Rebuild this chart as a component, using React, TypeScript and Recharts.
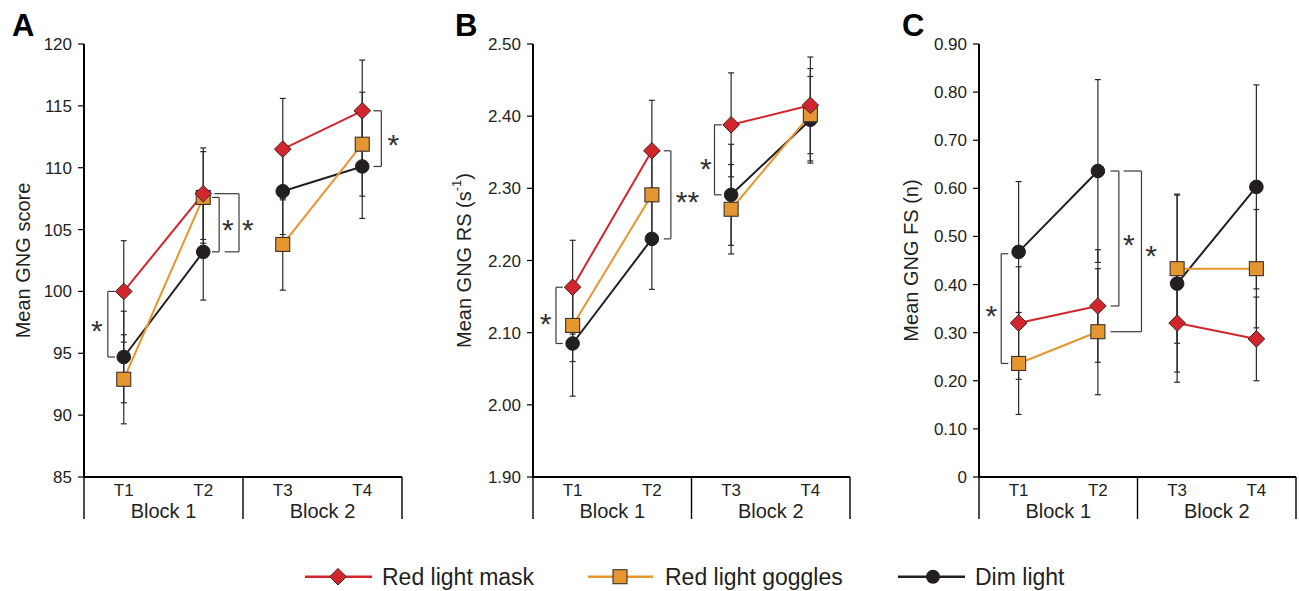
import React from 'react';
import { LineChart, Line, XAxis, YAxis, ErrorBar, ReferenceLine, ReferenceDot } from 'recharts';

// ---------- categories / labels ----------
const timepoints = ['T1', 'T2', 'T3', 'T4'];
const blocks = ['Block 1', 'Block 2'];
const seriesNames = ['Red light mask', 'Red light goggles', 'Dim light'];

// ---------- Panel A : Mean GNG score ----------
const scoreMask = [100.0, 107.9, 111.5, 114.6];
const scoreMaskErr = [4.1, 3.7, 4.1, 4.1];
const scoreGoggles = [92.9, 107.6, 103.8, 111.9];
const scoreGogglesErr = [3.6, 3.7, 3.7, 4.2];
const scoreDim = [94.7, 103.2, 108.1, 110.1];
const scoreDimErr = [3.7, 3.9, 3.5, 4.2];
const scoreTicks = [85, 90, 95, 100, 105, 110, 115, 120];

// ---------- Panel B : Mean GNG RS ----------
const rsMask = [2.163, 2.352, 2.388, 2.415];
const rsMaskErr = [0.065, 0.07, 0.072, 0.067];
const rsGoggles = [2.11, 2.291, 2.271, 2.402];
const rsGogglesErr = [0.05, 0.06, 0.062, 0.064];
const rsDim = [2.085, 2.23, 2.291, 2.395];
const rsDimErr = [0.073, 0.07, 0.07, 0.06];
const rsTicks = [1.9, 2.0, 2.1, 2.2, 2.3, 2.4, 2.5];

// ---------- Panel C : Mean GNG FS ----------
const fsMask = [0.32, 0.3555, 0.32, 0.287];
const fsMaskErr = [0.117, 0.117, 0.123, 0.087];
const fsGoggles = [0.236, 0.302, 0.433, 0.433];
const fsGogglesErr = [0.106, 0.131, 0.155, 0.123];
const fsDim = [0.468, 0.636, 0.402, 0.603];
const fsDimErr = [0.146, 0.19, 0.184, 0.212];
const fsTicks = [0, 0.1, 0.2, 0.3, 0.4, 0.5, 0.6, 0.7, 0.8, 0.9];

// ---------- significance annotations (x in timepoint units) ----------
const scoreBrackets = [
  { at: 1, v: -0.2, top: -0.11, bot: -0.11, y1: 100.0, y2: 94.7 },
  { at: 2, v: 0.2, top: 0.11, bot: 0.11, y1: 107.6, y2: 103.2 },
  { at: 2, v: 0.45, top: 0.14, bot: 0.27, y1: 107.9, y2: 103.2 },
  { at: 4, v: 0.24, top: 0.14, bot: 0.14, y1: 114.6, y2: 110.1 },
];
const scoreStars = [
  { at: 1, dx: -0.34, y: 97.4, text: '*' },
  { at: 2, dx: 0.31, y: 105.5, text: '*' },
  { at: 2, dx: 0.56, y: 105.5, text: '*' },
  { at: 4, dx: 0.39, y: 112.4, text: '*' },
];
const rsBrackets = [
  { at: 1, v: -0.21, top: -0.125, bot: -0.125, y1: 2.163, y2: 2.085 },
  { at: 2, v: 0.24, top: 0.15, bot: 0.15, y1: 2.352, y2: 2.23 },
  { at: 3, v: -0.21, top: -0.12, bot: -0.12, y1: 2.388, y2: 2.291 },
];
const rsStars = [
  { at: 1, dx: -0.34, y: 2.122, text: '*' },
  { at: 2, dx: 0.45, y: 2.291, text: '**' },
  { at: 3, dx: -0.32, y: 2.337, text: '*' },
];
const fsBrackets = [
  { at: 1, v: -0.22, top: -0.13, bot: -0.13, y1: 0.464, y2: 0.236 },
  { at: 2, v: 0.265, top: 0.16, bot: 0.16, y1: 0.636, y2: 0.3555 },
  { at: 2, v: 0.55, top: 0.325, bot: 0.16, y1: 0.636, y2: 0.302 },
];
const fsStars = [
  { at: 1, dx: -0.345, y: 0.349, text: '*' },
  { at: 2, dx: 0.39, y: 0.496, text: '*' },
  { at: 2, dx: 0.67, y: 0.473, text: '*' },
];

// ---------- styling ----------
const RED = '#d3262c';
const ORANGE = '#e6962f';
const DARK = '#231f20';
const INK = '#231f20';
const FONT = '"Liberation Sans", Arial, Helvetica, sans-serif';

// rows per timepoint, with an empty row between the two blocks so the lines break there
function makeRows(m: number[], me: number[], g: number[], ge: number[], d: number[], de: number[]) {
  const rows: any[] = timepoints.map((t, i) => ({
    x: i + 1,
    t,
    mask: m[i],
    maskErr: me[i],
    goggles: g[i],
    gogglesErr: ge[i],
    dim: d[i],
    dimErr: de[i],
  }));
  return [rows[0], rows[1], { x: 2.5, mask: null, goggles: null, dim: null }, rows[2], rows[3]];
}

const diamondDot = (p: any) => {
  const { cx, cy, index } = p;
  if (cx == null || cy == null || isNaN(cy)) return <g key={`d${index}`} />;
  const r = 8.3;
  return (
    <polygon
      key={`d${index}`}
      points={`${cx},${cy - r} ${cx + r},${cy} ${cx},${cy + r} ${cx - r},${cy}`}
      fill={RED}
      stroke="#3a2424"
      strokeWidth={1}
    />
  );
};
const squareDot = (p: any) => {
  const { cx, cy, index } = p;
  if (cx == null || cy == null || isNaN(cy)) return <g key={`s${index}`} />;
  const h = 7;
  return <rect key={`s${index}`} x={cx - h} y={cy - h} width={2 * h} height={2 * h} fill={ORANGE} stroke="#3a3030" strokeWidth={1.1} />;
};
const circleDot = (p: any) => {
  const { cx, cy, index } = p;
  if (cx == null || cy == null || isNaN(cy)) return <g key={`c${index}`} />;
  return <circle key={`c${index}`} cx={cx} cy={cy} r={6.8} fill={DARK} stroke={DARK} strokeWidth={1} />;
};

const XTick = (props: any) => {
  const { x, y, payload } = props;
  const v = payload.value as number;
  if (Number.isInteger(v)) {
    return (
      <text x={x} y={y + 19} textAnchor="middle" fontSize={17} fill={INK}>
        {timepoints[v - 1]}
      </text>
    );
  }
  if (v === 1.5 || v === 3.5) {
    return (
      <text x={x} y={y + 41} textAnchor="middle" fontSize={20} fill={INK}>
        {blocks[v === 1.5 ? 0 : 1]}
      </text>
    );
  }
  return <line x1={x} y1={y} x2={x} y2={y + 42} stroke="#000" strokeWidth={1.4} />;
};

type Bracket = { at: number; v: number; top: number; bot: number; y1: number; y2: number };
type Star = { at: number; dx: number; y: number; text: string };

type PanelProps = {
  left: number;
  width: number;
  mLeft: number;
  mRight: number;
  titleDx: number;
  title: React.ReactNode;
  rows: any[];
  ticks: number[];
  fmt: (v: number) => string;
  brackets: Bracket[];
  stars: Star[];
};

function Panel(props: PanelProps) {
  const { left, width, mLeft, mRight, titleDx, title, rows, ticks, fmt, brackets, stars } = props;
  const yTitle = (lp: any) => {
    const vb = lp.viewBox || { x: mLeft, y: 44, width: 60, height: 433 };
    const cx = vb.x + titleDx;
    const cy = vb.y + vb.height / 2;
    return (
      <text
        x={cx}
        y={cy}
        transform={`rotate(-90 ${cx} ${cy})`}
        textAnchor="middle"
        dominantBaseline="central"
        fontSize={20}
        fill={INK}
      >
        {title}
      </text>
    );
  };
  const segStyle = { stroke: '#3a3a3a', strokeWidth: 1.2 };
  const eb = { width: 3, stroke: '#2a2a2a', strokeWidth: 1.2, direction: 'y' as const };
  return (
    <div style={{ position: 'absolute', left, top: 0 }}>
      <LineChart width={width} height={530} data={rows} margin={{ top: 44, right: mRight, bottom: 3, left: mLeft }}>
        <XAxis
          type="number"
          dataKey="x"
          domain={[0.5, 4.5]}
          ticks={[0.5, 1, 1.5, 2, 2.5, 3, 3.5, 4, 4.5]}
          interval={0}
          tickLine={false}
          tickSize={0}
          tickMargin={0}
          height={50}
          axisLine={{ stroke: '#000', strokeWidth: 2 }}
          tick={(p: any) => <XTick {...p} />}
        />
        <YAxis
          type="number"
          domain={[ticks[0], ticks[ticks.length - 1]]}
          ticks={ticks}
          interval={0}
          width={60}
          tickSize={6}
          tickMargin={6}
          axisLine={{ stroke: '#000', strokeWidth: 2 }}
          tickLine={{ stroke: '#000', strokeWidth: 1.2 }}
          tick={{ fontSize: 17, fill: INK }}
          tickFormatter={fmt}
          label={yTitle}
        />
        {brackets.map((b, i) => [
          <ReferenceLine key={`bt${i}`} segment={[{ x: b.at + b.top, y: b.y1 }, { x: b.at + b.v, y: b.y1 }]} {...segStyle} />,
          <ReferenceLine key={`bv${i}`} segment={[{ x: b.at + b.v, y: b.y1 }, { x: b.at + b.v, y: b.y2 }]} {...segStyle} />,
          <ReferenceLine key={`bb${i}`} segment={[{ x: b.at + b.bot, y: b.y2 }, { x: b.at + b.v, y: b.y2 }]} {...segStyle} />,
        ])}
        {/* error bars first, beneath all lines and markers */}
        <Line dataKey="dim" stroke="none" dot={false} activeDot={false} legendType="none" isAnimationActive={false}>
          <ErrorBar dataKey="dimErr" {...eb} />
        </Line>
        <Line dataKey="goggles" stroke="none" dot={false} activeDot={false} legendType="none" isAnimationActive={false}>
          <ErrorBar dataKey="gogglesErr" {...eb} />
        </Line>
        <Line dataKey="mask" stroke="none" dot={false} activeDot={false} legendType="none" isAnimationActive={false}>
          <ErrorBar dataKey="maskErr" {...eb} />
        </Line>
        <Line dataKey="dim" name={seriesNames[2]} stroke={DARK} strokeWidth={2} dot={circleDot} activeDot={false} isAnimationActive={false} />
        <Line dataKey="goggles" name={seriesNames[1]} stroke={ORANGE} strokeWidth={2} dot={squareDot} activeDot={false} isAnimationActive={false} />
        <Line dataKey="mask" name={seriesNames[0]} stroke={RED} strokeWidth={2} dot={diamondDot} activeDot={false} isAnimationActive={false} />
        {stars.map((s, i) => (
          <ReferenceDot
            key={`st${i}`}
            x={s.at + s.dx}
            y={s.y}
            r={0}
            shape={(p: any) => (
              <text x={p.cx} y={p.cy + 17} textAnchor="middle" fontSize={30} fill="#333">
                {s.text}
              </text>
            )}
          />
        ))}
      </LineChart>
    </div>
  );
}

const legendItems = [
  { name: seriesNames[0], color: RED, marker: 'diamond', x0: 305, x1: 372, mx: 338, tx: 382 },
  { name: seriesNames[1], color: ORANGE, marker: 'square', x0: 588, x1: 653, mx: 620, tx: 665 },
  { name: seriesNames[2], color: DARK, marker: 'circle', x0: 898, x1: 965, mx: 933, tx: 975 },
];

function Overlay() {
  const ly = 576.7;
  return (
    <svg width={1299} height={591} style={{ position: 'absolute', left: 0, top: 0, pointerEvents: 'none' }}>
      <text x={12} y={36} fontSize={31} fontWeight="bold" fill="#000">A</text>
      <text x={455} y={36} fontSize={31} fontWeight="bold" fill="#000">B</text>
      <text x={902} y={36} fontSize={31} fontWeight="bold" fill="#000">C</text>
      {legendItems.map((it) => (
        <g key={it.name}>
          <line x1={it.x0} y1={ly} x2={it.x1} y2={ly} stroke={it.color} strokeWidth={2.5} />
          {it.marker === 'diamond' && diamondDot({ cx: it.mx, cy: ly, index: 'l' })}
          {it.marker === 'square' && squareDot({ cx: it.mx, cy: ly, index: 'l' })}
          {it.marker === 'circle' && <circle cx={it.mx} cy={ly} r={7} fill={DARK} />}
          <text x={it.tx} y={ly + 7.8} fontSize={23} fill={INK}>
            {it.name}
          </text>
        </g>
      ))}
    </svg>
  );
}

export default function App() {
  const rowsA = makeRows(scoreMask, scoreMaskErr, scoreGoggles, scoreGogglesErr, scoreDim, scoreDimErr);
  const rowsB = makeRows(rsMask, rsMaskErr, rsGoggles, rsGogglesErr, rsDim, rsDimErr);
  const rowsC = makeRows(fsMask, fsMaskErr, fsGoggles, fsGogglesErr, fsDim, fsDimErr);
  return (
    <div style={{ position: 'absolute', left: 0, top: 0, width: 1299, height: 591, background: '#fff', fontFamily: FONT }}>
      <Panel
        left={0}
        width={430}
        mLeft={24}
        mRight={28}
        titleDx={-1.5}
        title="Mean GNG score"
        rows={rowsA}
        ticks={scoreTicks}
        fmt={(v) => String(v)}
        brackets={scoreBrackets}
        stars={scoreStars}
      />
      <Panel
        left={430}
        width={440}
        mLeft={43}
        mRight={20}
        titleDx={-9}
        title={
          <>
            Mean GNG RS (s
            <tspan fontSize={13} dy={-8}>-1</tspan>
            <tspan dy={8}>)</tspan>
          </>
        }
        rows={rowsB}
        ticks={rsTicks}
        fmt={(v) => v.toFixed(2)}
        brackets={rsBrackets}
        stars={rsStars}
      />
      <Panel
        left={870}
        width={429}
        mLeft={49}
        mRight={3}
        titleDx={-8}
        title="Mean GNG FS (n)"
        rows={rowsC}
        ticks={fsTicks}
        fmt={(v) => (v === 0 ? '0' : v.toFixed(2))}
        brackets={fsBrackets}
        stars={fsStars}
      />
      <Overlay />
    </div>
  );
}
